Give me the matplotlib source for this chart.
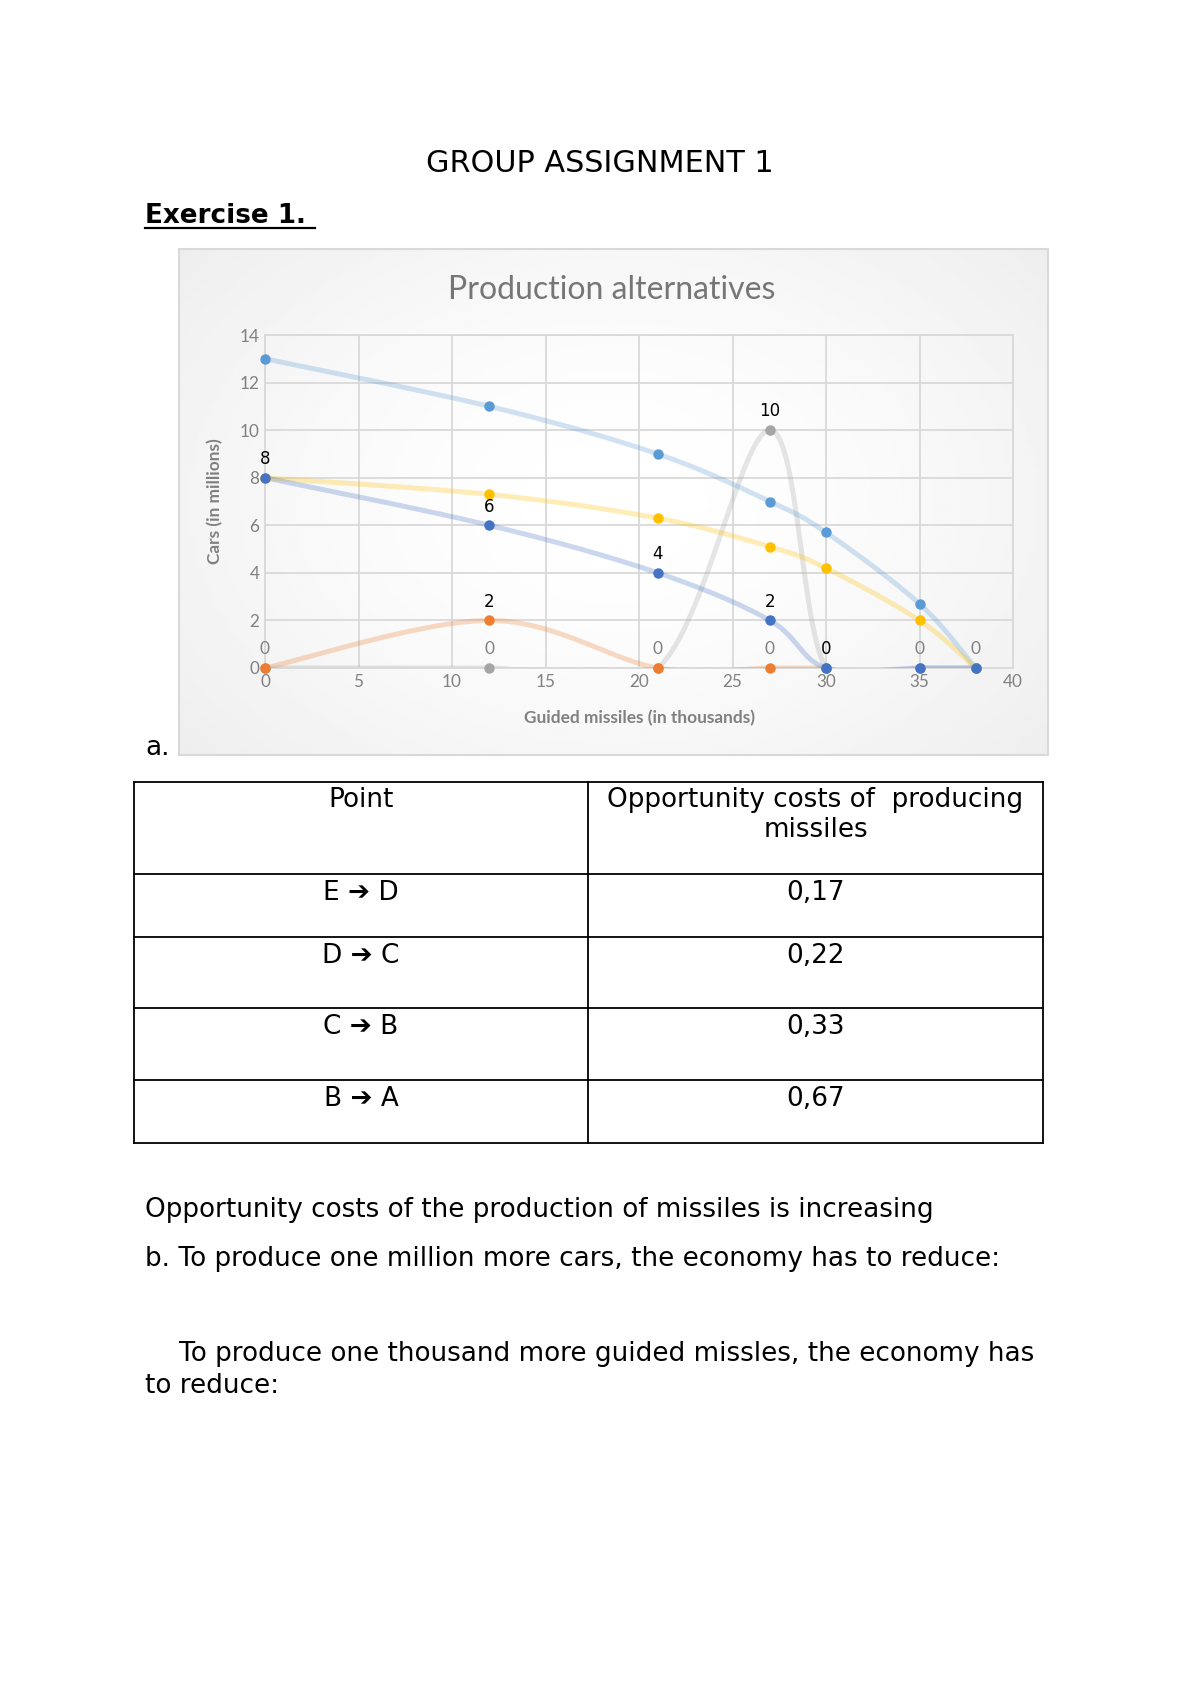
import numpy as np
import matplotlib.pyplot as plt
from matplotlib.lines import Line2D
from matplotlib.patches import Rectangle

W, H = 1200, 1698

# chart data (guided missiles in thousands, cars in millions)
missiles = [0, 12, 21, 27, 30, 35, 38]
cars_blue = [13, 11, 9, 7, 5.7, 2.7, 0]
cars_yellow = [8, 7.3, 6.3, 5.1, 4.2, 2, 0]
cars_dark = [8, 6, 4, 2, 0, 0, 0]
orange_x = [0, 12, 21, 27, 30]
cars_orange = [0, 2, 0, 0, 0]
cars_gray = [0, 0, 0, 10, 0, 0, 0]

dark_labels = ['8', '6', '4', '2', '0']
zero_label_x = [0, 12, 21, 27, 35, 38]

# table data
table_head = ['Point', 'Opportunity costs of  producing\nmissiles']
table_points = ['E \u2794 D', 'D \u2794 C', 'C \u2794 B', 'B \u2794 A']
table_costs = ['0,17', '0,22', '0,33', '0,67']


def px(x):
    return x / W


def py(y):
    return 1 - y / H


# Excel-like smoothed line through the points
def smooth(xs, ys, n=40):
    p = np.column_stack([xs, ys]).astype(float)
    ext = np.vstack([p[0], p, p[-1]])
    t = np.linspace(0, 1, n)[1:, None]
    out = [p[:1]]
    for i in range(len(p) - 1):
        p0, p1, p2, p3 = ext[i], ext[i + 1], ext[i + 2], ext[i + 3]
        c1 = p1 + (p2 - p0) / 6
        c2 = p2 - (p3 - p1) / 6
        seg = (1 - t) ** 3 * p1 + 3 * (1 - t) ** 2 * t * c1 + 3 * (1 - t) * t ** 2 * c2 + t ** 3 * p2
        out.append(seg)
    s = np.vstack(out)
    return s[:, 0], s[:, 1]


fig = plt.figure(figsize=(12, 16.98), dpi=100)
body = dict(family='DejaVu Sans', fontsize=18.9, color='black')

fig.text(px(600), py(164), 'GROUP ASSIGNMENT 1', ha='center', va='center',
         family='DejaVu Sans', fontsize=21.8)
fig.text(px(145), py(216), 'Exercise 1. ', ha='left', va='center',
         family='DejaVu Sans', fontsize=18.9, weight='bold')
fig.add_artist(Line2D([px(145), px(315)], [py(228), py(228)], color='black', lw=1.6))

# chart background with soft radial gradient
bg = fig.add_axes([px(179), py(755), px(869), 506 / H])
yy, xx = np.mgrid[0:1:200j, 0:1:300j]
r = np.sqrt(((xx - 0.5) / 0.75) ** 2 + ((yy - 0.5) / 0.9) ** 2)
grad = 1 - 0.085 * np.clip(r, 0, 1.2) ** 1.6
bg.imshow(grad, cmap='gray', vmin=0, vmax=1, aspect='auto', extent=[0, 1, 0, 1])
bg.set_axis_off()
fig.add_artist(Rectangle((px(179), py(755)), px(869), 506 / H, fill=False,
                         edgecolor='#D9D9D9', lw=1.5))

fig.text(px(612), py(290), 'Production alternatives', ha='center', va='center',
         family='Lato', fontsize=23, color='#767676')

ax = fig.add_axes([px(265), py(668), px(1013 - 265), (668 - 335) / H])
ax.patch.set_alpha(0)
ax.set_xlim(0, 40)
ax.set_ylim(0, 14)
ax.set_xticks(range(0, 41, 5))
ax.set_yticks(range(0, 15, 2))
ax.grid(True, color='#D9D9D9', lw=1.3)
for s in ax.spines.values():
    s.set_color('#D9D9D9')
    s.set_linewidth(1.3)
ax.tick_params(length=0, labelsize=12.3, labelcolor='#808080', pad=4)
for lab in ax.get_xticklabels() + ax.get_yticklabels():
    lab.set_family('Lato')
ax.set_xlabel('Guided missiles (in thousands)', family='Lato', fontsize=12.4,
              weight='bold', color='#808080', labelpad=15)
ax.set_ylabel('Cars (in millions)', family='Lato', fontsize=12.4,
              weight='bold', color='#808080', labelpad=12)

series = [
    (missiles, cars_gray, '#A5A5A5', 2),
    (missiles, cars_blue, '#5B9BD5', 3),
    (orange_x, cars_orange, '#ED7D31', 4),
    (missiles, cars_yellow, '#FFC000', 5),
    (missiles, cars_dark, '#4472C4', 6),
]
for xs, ys, col, z in series:
    sx, sy = smooth(xs, ys)
    ax.plot(sx, sy, color=col, lw=3.6, alpha=0.28, zorder=z, solid_capstyle='round')
    ax.plot(xs, ys, 'o', color=col, ms=6.5, zorder=z + 10, clip_on=False)

lab_kw = dict(textcoords='offset points', ha='center', va='center',
              annotation_clip=False)
for x, y, t in zip(missiles, cars_dark, dark_labels):
    ax.annotate(t, (x, y), xytext=(0, 13.5), color='black', zorder=30,
                family='DejaVu Sans', fontsize=12, **lab_kw)
ax.annotate('2', (orange_x[1], cars_orange[1]), xytext=(0, 13.5), color='black',
            family='DejaVu Sans', fontsize=12, **lab_kw)
ax.annotate('10', (missiles[3], cars_gray[3]), xytext=(0, 13.5), color='black',
            family='DejaVu Sans', fontsize=12, **lab_kw)
for x in zero_label_x:
    ax.annotate('0', (x, 0), xytext=(0, 13.5), color='#808080',
                family='Lato', fontsize=12.5, **lab_kw)

fig.text(px(145), py(748), 'a.', ha='left', va='center', **body)

# table
tx0, tx1, tx2 = 134, 588, 1043
row_y = [782, 874, 937, 1008, 1080, 1143]
tcol = dict(color='black', lw=1.3)
for y in row_y:
    fig.add_artist(Line2D([px(tx0), px(tx2)], [py(y), py(y)], **tcol))
for x in (tx0, tx1, tx2):
    fig.add_artist(Line2D([px(x), px(x)], [py(row_y[0]), py(row_y[-1])], **tcol))
cx1 = (tx0 + tx1) / 2
cx2 = (tx1 + tx2) / 2
fig.text(px(cx1), py(787), table_head[0], ha='center', va='top', **body)
fig.text(px(cx2), py(787), table_head[1], ha='center', va='top', linespacing=1.22, **body)
for i, (a, b) in enumerate(zip(table_points, table_costs)):
    top = row_y[i + 1] + 6
    fig.text(px(cx1), py(top), a, ha='center', va='top', **body)
    fig.text(px(cx2), py(top), b, ha='center', va='top', **body)

fig.text(px(145), py(1210), 'Opportunity costs of the production of missiles is increasing',
         ha='left', va='center', **body)
fig.text(px(145), py(1259), 'b. To produce one million more cars, the economy has to reduce:',
         ha='left', va='center', **body)
fig.text(px(179), py(1354), 'To produce one thousand more guided missles, the economy has',
         ha='left', va='center', **body)
fig.text(px(145), py(1386), 'to reduce:', ha='left', va='center', **body)

fig.savefig('out.png', dpi=100, facecolor='white')
